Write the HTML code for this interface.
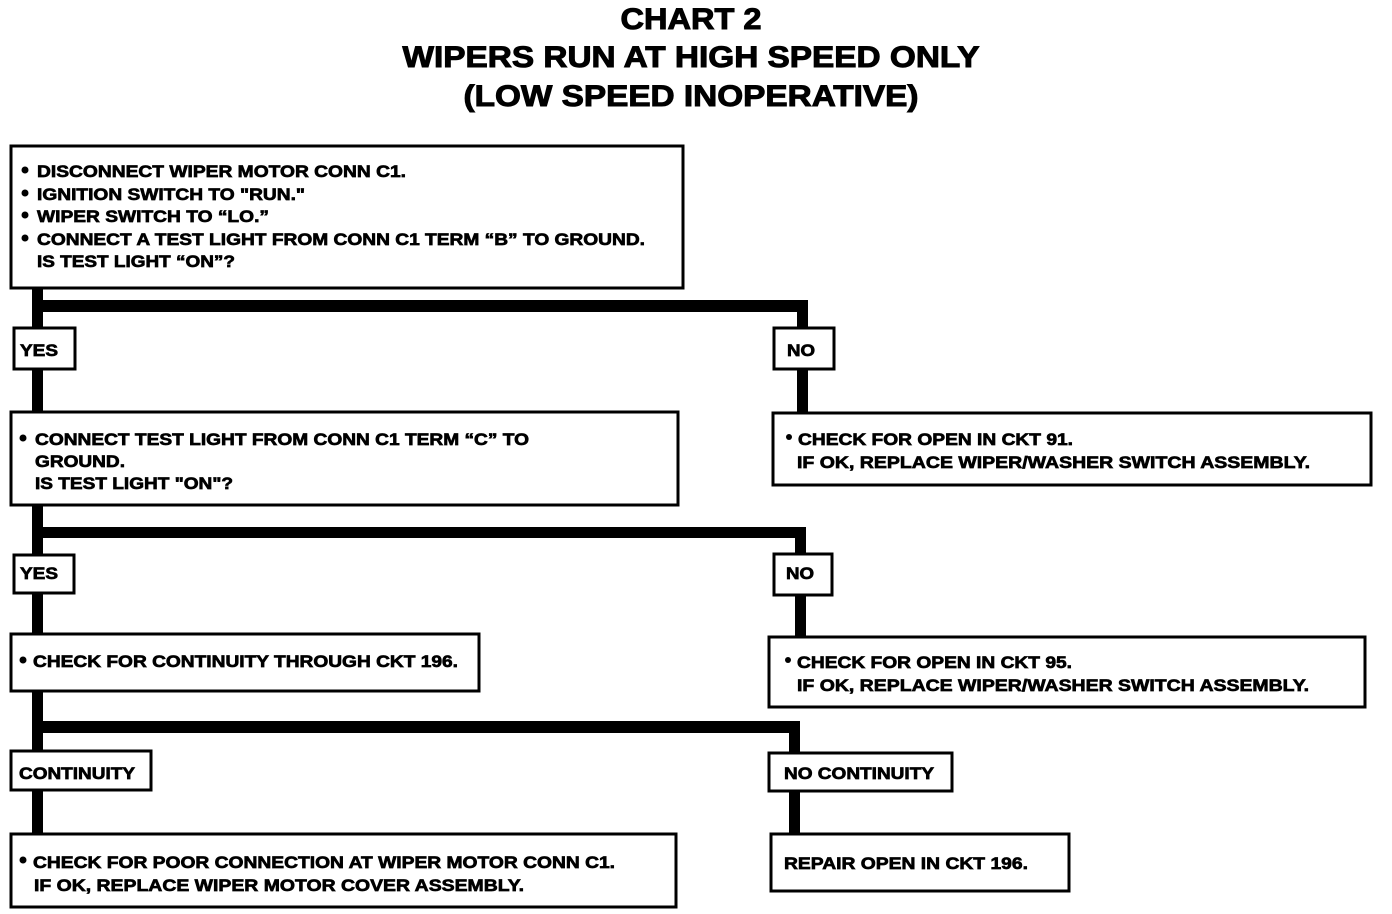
<!DOCTYPE html>
<html><head><meta charset="utf-8"><style>
html,body{margin:0;padding:0;background:#fff}
svg{display:block}
text{font-family:"Liberation Sans",Arial,sans-serif;font-weight:bold;fill:#000;stroke:#000;stroke-width:0.7}
.t text{stroke-width:1}
</style></head><body>
<svg width="1392" height="914" viewBox="0 0 1392 914" xmlns="http://www.w3.org/2000/svg">
<g class="t" font-size="30" text-anchor="middle">
<text x="691" y="29" textLength="141" lengthAdjust="spacingAndGlyphs">CHART 2</text>
<text x="691" y="67" textLength="577" lengthAdjust="spacingAndGlyphs">WIPERS RUN AT HIGH SPEED ONLY</text>
<text x="691" y="106" textLength="455" lengthAdjust="spacingAndGlyphs">(LOW SPEED INOPERATIVE)</text>
</g>
<g fill="#000">
<rect x="32" y="289" width="11" height="122"/>
<rect x="32" y="300" width="776" height="12"/>
<rect x="797" y="300" width="11" height="112"/>
<rect x="32" y="506" width="11" height="127"/>
<rect x="32" y="527" width="774" height="11"/>
<rect x="795" y="527" width="11" height="109"/>
<rect x="32" y="692" width="11" height="141"/>
<rect x="32" y="721" width="768" height="12"/>
<rect x="789" y="721" width="11" height="112"/>
</g>
<g fill="#fff" stroke="#000" stroke-width="3">
<rect x="11" y="146" width="672" height="142"/>
<rect x="14" y="328" width="61" height="41"/>
<rect x="774" y="328" width="60" height="41"/>
<rect x="11" y="412" width="667" height="93"/>
<rect x="773" y="413" width="598" height="72"/>
<rect x="14" y="555" width="60" height="38"/>
<rect x="774" y="554" width="58" height="41"/>
<rect x="11" y="634" width="468" height="57"/>
<rect x="769" y="637" width="596" height="70"/>
<rect x="11" y="751" width="140" height="39"/>
<rect x="769" y="753" width="183" height="38"/>
<rect x="11" y="834" width="665" height="73"/>
<rect x="771" y="834" width="298" height="57"/>
</g>
<g fill="#000">
<circle cx="25" cy="170" r="3.5"/><circle cx="25" cy="193" r="3.5"/><circle cx="25" cy="215" r="3.5"/><circle cx="25" cy="238" r="3.5"/>
<circle cx="23" cy="438" r="3.5"/><circle cx="789" cy="437" r="3"/>
<circle cx="23" cy="660" r="3.5"/><circle cx="788" cy="660" r="3"/>
<circle cx="23" cy="860" r="3.5"/>
</g>
<g font-size="17">
<text x="37" y="177" textLength="369" lengthAdjust="spacingAndGlyphs">DISCONNECT WIPER MOTOR CONN C1.</text>
<text x="37" y="200" textLength="268" lengthAdjust="spacingAndGlyphs">IGNITION SWITCH TO "RUN."</text>
<text x="37" y="222" textLength="232" lengthAdjust="spacingAndGlyphs">WIPER SWITCH TO “LO.”</text>
<text x="37" y="245" textLength="608" lengthAdjust="spacingAndGlyphs">CONNECT A TEST LIGHT FROM CONN C1 TERM “B” TO GROUND.</text>
<text x="37" y="267" textLength="198" lengthAdjust="spacingAndGlyphs">IS TEST LIGHT “ON”?</text>

<text x="20" y="356" textLength="38" lengthAdjust="spacingAndGlyphs">YES</text>
<text x="787" y="356" textLength="28" lengthAdjust="spacingAndGlyphs">NO</text>

<text x="35" y="445" textLength="494" lengthAdjust="spacingAndGlyphs">CONNECT TEST LIGHT FROM CONN C1 TERM “C” TO</text>
<text x="35" y="467" textLength="90" lengthAdjust="spacingAndGlyphs">GROUND.</text>
<text x="35" y="489" textLength="198" lengthAdjust="spacingAndGlyphs">IS TEST LIGHT "ON"?</text>

<text x="798" y="445" textLength="275" lengthAdjust="spacingAndGlyphs">CHECK FOR OPEN IN CKT 91.</text>
<text x="797" y="468" textLength="513" lengthAdjust="spacingAndGlyphs">IF OK, REPLACE WIPER/WASHER SWITCH ASSEMBLY.</text>

<text x="20" y="579" textLength="38" lengthAdjust="spacingAndGlyphs">YES</text>
<text x="786" y="579" textLength="28" lengthAdjust="spacingAndGlyphs">NO</text>

<text x="33" y="667" textLength="425" lengthAdjust="spacingAndGlyphs">CHECK FOR CONTINUITY THROUGH CKT 196.</text>

<text x="797" y="668" textLength="275" lengthAdjust="spacingAndGlyphs">CHECK FOR OPEN IN CKT 95.</text>
<text x="797" y="691" textLength="512" lengthAdjust="spacingAndGlyphs">IF OK, REPLACE WIPER/WASHER SWITCH ASSEMBLY.</text>

<text x="19" y="779" textLength="116" lengthAdjust="spacingAndGlyphs">CONTINUITY</text>
<text x="784" y="779" textLength="150" lengthAdjust="spacingAndGlyphs">NO CONTINUITY</text>

<text x="33" y="868" textLength="582" lengthAdjust="spacingAndGlyphs">CHECK FOR POOR CONNECTION AT WIPER MOTOR CONN C1.</text>
<text x="34" y="891" textLength="490" lengthAdjust="spacingAndGlyphs">IF OK, REPLACE WIPER MOTOR COVER ASSEMBLY.</text>

<text x="784" y="869" textLength="244" lengthAdjust="spacingAndGlyphs">REPAIR OPEN IN CKT 196.</text>
</g>
</svg>
</body></html>
